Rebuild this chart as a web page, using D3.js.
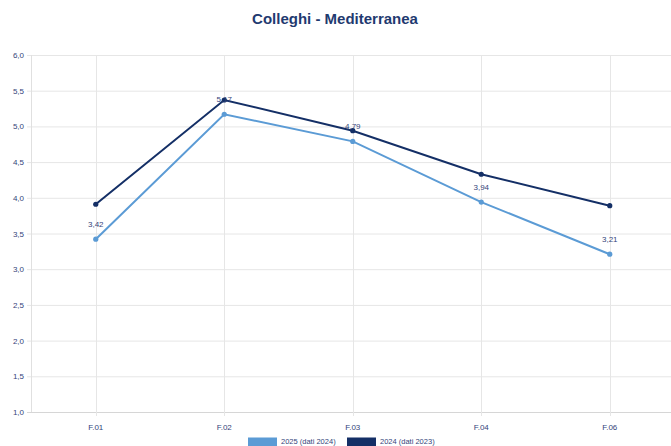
<!DOCTYPE html>
<meta charset="utf-8">
<title>Colleghi - Mediterranea</title>
<script src="https://cdn.jsdelivr.net/npm/d3@7"></script>
<style>
  body { margin: 0; background: #fff; font-family: "Liberation Sans", Arial, sans-serif; }
</style>
<div id="chart"></div>
<script>

var categories = ["F.01", "F.02", "F.03", "F.04", "F.06"];
var values2025 = [3.42, 5.17, 4.79, 3.94, 3.21];
var values2024 = [3.91, 5.37, 4.94, 4.33, 3.89];
var yTicks = [1, 1.5, 2, 2.5, 3, 3.5, 4, 4.5, 5, 5.5, 6];
var seriesNames = ["2025 (dati 2024)", "2024 (dati 2023)"];

var w = 671, h = 446
   ,light = "#5b9bd5"
   ,dark = "#142f66"
   ,textCol = "#34447a";

var svg = d3.select("#chart").append("svg")
            .attr("width", w)
            .attr("height", h);

var x = d3.scaleBand().domain(categories).range([31.5, 674]);
var y = d3.scaleLinear().domain([1, 6]).range([412, 55]);
var fmt = function (d) { return d3.format(".1f")(d).replace(".", ","); };
var fmt2 = function (d) { return d3.format(".2f")(d).replace(".", ","); };
var cx = function (d, i) { return x(categories[i]) + x.bandwidth() / 2; };

// title
svg.append("text")
  .attr("x", 335).attr("y", 24)
  .attr("text-anchor", "middle")
  .style("font-size", "15px").style("font-weight", "bold")
  .attr("fill", "#1f3a70")
  .text("Colleghi - Mediterranea");

// grid
svg.selectAll(".hgrid").data(yTicks).enter().append("line")
  .attr("x1", 27).attr("x2", w)
  .attr("y1", function (d) { return y(d) + 0.5; })
  .attr("y2", function (d) { return y(d) + 0.5; })
  .attr("stroke", function (d) { return d === 1 ? "#d6d6d6" : "#e6e6e6"; })
  .attr("stroke-width", 1);

svg.selectAll(".vgrid").data(categories).enter().append("line")
  .attr("x1", function (d) { return Math.round(x(d) + x.bandwidth() / 2) + 0.5; })
  .attr("x2", function (d) { return Math.round(x(d) + x.bandwidth() / 2) + 0.5; })
  .attr("y1", y(6)).attr("y2", y(1) + 4)
  .attr("stroke", "#e6e6e6");

svg.append("line")
  .attr("x1", 31.5).attr("x2", 31.5)
  .attr("y1", y(6)).attr("y2", y(1))
  .attr("stroke", "#e0e0e0");

// y labels
svg.selectAll(".ylab").data(yTicks).enter().append("text")
  .attr("x", 24).attr("y", function (d) { return y(d) + 3; })
  .attr("text-anchor", "end")
  .style("font-size", "8px")
  .attr("fill", textCol)
  .text(fmt);

// x labels
svg.selectAll(".xlab").data(categories).enter().append("text")
  .attr("x", function (d) { return x(d) + x.bandwidth() / 2; })
  .attr("y", 430)
  .attr("text-anchor", "middle")
  .style("font-size", "8px")
  .attr("fill", textCol)
  .text(function (d) { return d; });

// lines
var line = d3.line().x(cx).y(function (d) { return y(d); });

[[values2025, light], [values2024, dark]].forEach(function (s) {
  svg.append("path")
    .datum(s[0])
    .attr("d", line)
    .attr("fill", "none")
    .attr("stroke", s[1])
    .attr("stroke-width", 2);
  svg.append("g").selectAll("circle").data(s[0]).enter().append("circle")
    .attr("cx", cx)
    .attr("cy", function (d) { return y(d); })
    .attr("r", 2.6)
    .attr("fill", s[1]);
});

// value labels (2025 series)
svg.selectAll(".vlab").data(values2025).enter().append("text")
  .attr("x", cx)
  .attr("y", function (d) { return y(d) - 12; })
  .attr("text-anchor", "middle")
  .style("font-size", "8px")
  .attr("fill", textCol)
  .text(fmt2);

// legend
var legend = svg.append("g");
var lx = [248, 347];
[light, dark].forEach(function (c, i) {
  legend.append("rect")
    .attr("x", lx[i]).attr("y", 437.5)
    .attr("width", 29).attr("height", 9)
    .attr("fill", c);
  legend.append("text")
    .attr("x", lx[i] + 33).attr("y", 444)
    .style("font-size", "7.5px")
    .attr("fill", textCol)
    .text(seriesNames[i]);
});

</script>
